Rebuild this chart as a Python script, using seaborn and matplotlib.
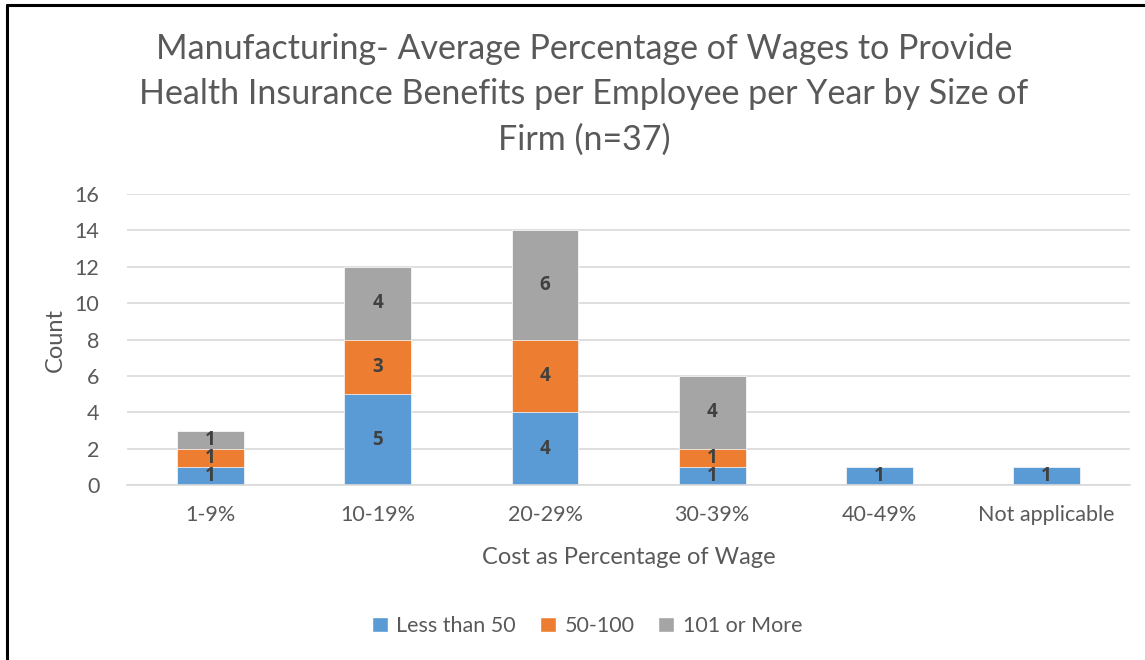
import pandas as pd
import matplotlib.pyplot as plt
import seaborn as sns
from matplotlib.lines import Line2D
from matplotlib.patches import Patch

# data
categories = ['1-9%', '10-19%', '20-29%', '30-39%', '40-49%', 'Not applicable']
less_than_50 = [1, 5, 4, 1, 1, 1]
from_50_to_100 = [1, 3, 4, 1, 0, 0]
over_100 = [1, 4, 6, 4, 0, 0]
series_names = ['Less than 50', '50-100', '101 or More']
colors = ['#5B9BD5', '#ED7D31', '#A5A5A5']

sns.set_theme(style="white")
plt.rcParams['font.family'] = ['Lato', 'DejaVu Sans']
text_color = '#595959'

df = pd.DataFrame({
    'cat': categories,
    'a': less_than_50,
    'b': from_50_to_100,
    'c': over_100,
})
df['ab'] = df['a'] + df['b']
df['abc'] = df['ab'] + df['c']

fig = plt.figure(figsize=(11.45, 6.6), dpi=100)
ax = fig.add_axes([0.111, 0.265, 0.876, 0.441])

# stacked bars: draw cumulative totals back to front
for col, color in zip(['abc', 'ab', 'a'], colors[::-1]):
    sns.barplot(data=df, x='cat', y=col, color=color, width=0.4,
                saturation=1, edgecolor='white', linewidth=0.5, ax=ax, zorder=2)

# segment labels
for i in range(len(categories)):
    bottom = 0
    for vals in [less_than_50, from_50_to_100, over_100]:
        v = vals[i]
        if v > 0:
            ax.text(i, bottom + v / 2, str(v), ha='center', va='center',
                    fontsize=13.5, fontweight='bold', color='#404040', zorder=3,
                    family=['Open Sans', 'DejaVu Sans'])
        bottom += v

ax.set_ylim(0, 16)
ax.set_yticks(range(0, 17, 2))
ax.set_xlim(-0.5, len(categories) - 0.5)
ax.yaxis.grid(True, color='#D9D9D9', linewidth=1.2, zorder=0)
ax.set_axisbelow(True)
for s in ['top', 'right', 'left']:
    ax.spines[s].set_visible(False)
ax.spines['bottom'].set_color('#D9D9D9')
ax.spines['bottom'].set_linewidth(1.2)
ax.tick_params(axis='both', length=0, labelsize=15.5, labelcolor=text_color)
ax.tick_params(axis='y', pad=20)
ax.tick_params(axis='x', pad=14)

ax.set_xlabel('Cost as Percentage of Wage', fontsize=17, color=text_color, labelpad=16)
ax.set_ylabel('Count', fontsize=17, color=text_color, labelpad=6)

fig.text(0.51, 0.857,
         'Manufacturing- Average Percentage of Wages to Provide\n'
         'Health Insurance Benefits per Employee per Year by Size of\n'
         'Firm (n=37)',
         ha='center', va='center', fontsize=24.5, color=text_color, linespacing=1.5)

handles = [Patch(facecolor=c, label=n) for c, n in zip(colors, series_names)]
fig.legend(handles=handles, loc='center', bbox_to_anchor=(587 / 1145, 1 - 626 / 660),
           ncol=3, frameon=False, fontsize=15.5, labelcolor=text_color,
           handlelength=0.75, handleheight=0.75, handletextpad=0.4, columnspacing=1.1)

# chart frame (left and top edges visible)
fig.add_artist(Line2D([6.5 / 1145, 6.5 / 1145], [0, 1 - 5 / 660], color='black', linewidth=2.2))
fig.add_artist(Line2D([6.5 / 1145, 1], [1 - 5 / 660, 1 - 5 / 660], color='black', linewidth=2.2))

fig.savefig('out.png', dpi=100)
